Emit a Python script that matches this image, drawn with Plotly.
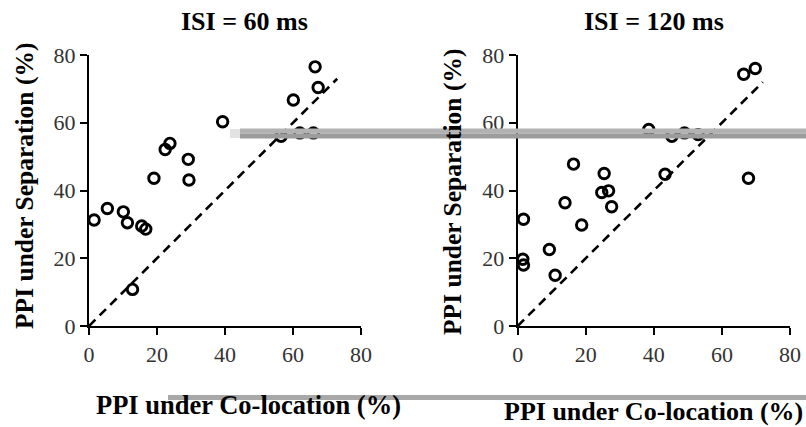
import plotly.graph_objects as go

# ---- data ----
titles = ["ISI = 60 ms", "ISI = 120 ms"]
x_title = "PPI under Co-location (%)"
y_title = "PPI under Separation (%)"
tick_vals = [0, 20, 40, 60, 80]

isi60_coloc = [1.5, 5.4, 10.1, 11.3, 15.5, 16.7, 12.8, 19.1, 22.4, 23.8,
               29.2, 29.4, 39.3, 56.5, 62.0, 66.0, 60.1, 67.4, 66.5]
isi60_sep = [31.3, 34.7, 33.7, 30.5, 29.5, 28.6, 10.8, 43.6, 52.1, 53.9,
             49.2, 43.1, 60.3, 56.0, 57.0, 57.0, 66.7, 70.4, 76.5]

isi120_coloc = [1.7, 1.5, 1.7, 9.3, 11.0, 13.9, 16.4, 18.8, 24.7, 26.7,
                25.4, 27.6, 38.5, 43.3, 45.3, 49.0, 53.0, 66.4, 69.8, 67.8]
isi120_sep = [31.5, 19.7, 18.0, 22.6, 15.0, 36.4, 47.8, 29.8, 39.4, 39.9,
              45.0, 35.2, 58.0, 44.8, 56.0, 57.0, 56.5, 74.3, 76.0, 43.6]

diag_60 = [0, 73]
diag_120 = [0, 72]

W, H = 806, 427


def px(x):
    return x / W


def py(y):
    return 1 - y / H


fig = go.Figure()

panels = [
    (isi60_coloc, isi60_sep, diag_60, "x", "y"),
    (isi120_coloc, isi120_sep, diag_120, "x2", "y2"),
]
for xs, ys, diag, xa, ya in panels:
    fig.add_trace(go.Scatter(
        x=diag, y=diag, mode="lines", xaxis=xa, yaxis=ya,
        line=dict(color="black", width=2.6, dash="9px,6px"),
        showlegend=False, hoverinfo="skip"))
    fig.add_trace(go.Scatter(
        x=xs, y=ys, mode="markers", xaxis=xa, yaxis=ya, cliponaxis=False,
        marker=dict(symbol="circle-open", size=10.5, color="black",
                    line=dict(width=2.9, color="black")),
        showlegend=False))

tick_font = dict(family="Liberation Serif", size=22, color="#333333")
axis_common = dict(range=[0, 80], tickvals=tick_vals, showgrid=False,
                   zeroline=False, showline=True, linecolor="black",
                   linewidth=2.2, ticks="outside", ticklen=7, tickwidth=2,
                   tickcolor="black", tickfont=tick_font, mirror=False,
                   automargin=False)

yd = [py(326), py(55)]
fig.update_layout(
    template="none",
    width=W, height=H, autosize=False,
    margin=dict(l=0, r=0, t=0, b=0, pad=0),
    paper_bgcolor="white", plot_bgcolor="white",
    xaxis=dict(domain=[px(89), px(361)], anchor="y", **axis_common),
    yaxis=dict(domain=yd, anchor="x", **axis_common),
    xaxis2=dict(domain=[px(517.7), px(790)], anchor="y2", **axis_common),
    yaxis2=dict(domain=yd, anchor="x2", **axis_common),
)

title_font = dict(family="Liberation Serif", size=26, color="black")
ylab_font = dict(family="Liberation Serif", size=25.5, color="black")
ann = [
    dict(text="<b>%s</b>" % titles[0], x=px(245), y=py(21)),
    dict(text="<b>%s</b>" % titles[1], x=px(654), y=py(21)),
]
for a in ann:
    a.update(xref="paper", yref="paper", showarrow=False,
             xanchor="center", yanchor="middle", font=title_font)
labels = [
    dict(text="<b>%s</b>" % x_title, x=px(248), y=py(405),
         font=dict(family="Liberation Serif", size=26.5, color="black")),
    dict(text="<b>%s</b>" % x_title, x=px(653), y=py(411),
         font=dict(family="Liberation Serif", size=26, color="black")),
    dict(text="<b>%s</b>" % y_title, x=px(24), y=py(186), textangle=-90,
         font=ylab_font),
    dict(text="<b>%s</b>" % y_title, x=px(452), y=py(192), textangle=-90,
         font=ylab_font),
]
for a in labels:
    a.update(xref="paper", yref="paper", showarrow=False,
             xanchor="center", yanchor="middle")
fig.update_layout(annotations=ann + labels)

# gray scan-artifact bands visible in the reference
bands = [
    (230, 240, 129, 138, "#e2e2e2"),
    (240, 806, 128.5, 133.5, "#b2b2b2"),
    (240, 806, 133.5, 138.5, "#9c9c9c"),
    (168, 806, 395, 400, "#a8a8a8"),
]
for x0, x1, y0, y1, c in bands:
    fig.add_shape(type="rect", xref="paper", yref="paper",
                  x0=px(x0), x1=px(x1), y0=py(y1), y1=py(y0),
                  fillcolor=c, line=dict(width=0), layer="above")

fig.write_html(
    "out.html",
    config={"displayModeBar": False},
    post_script="document.body.style.margin='0';"
                "document.body.style.overflow='hidden';",
)
